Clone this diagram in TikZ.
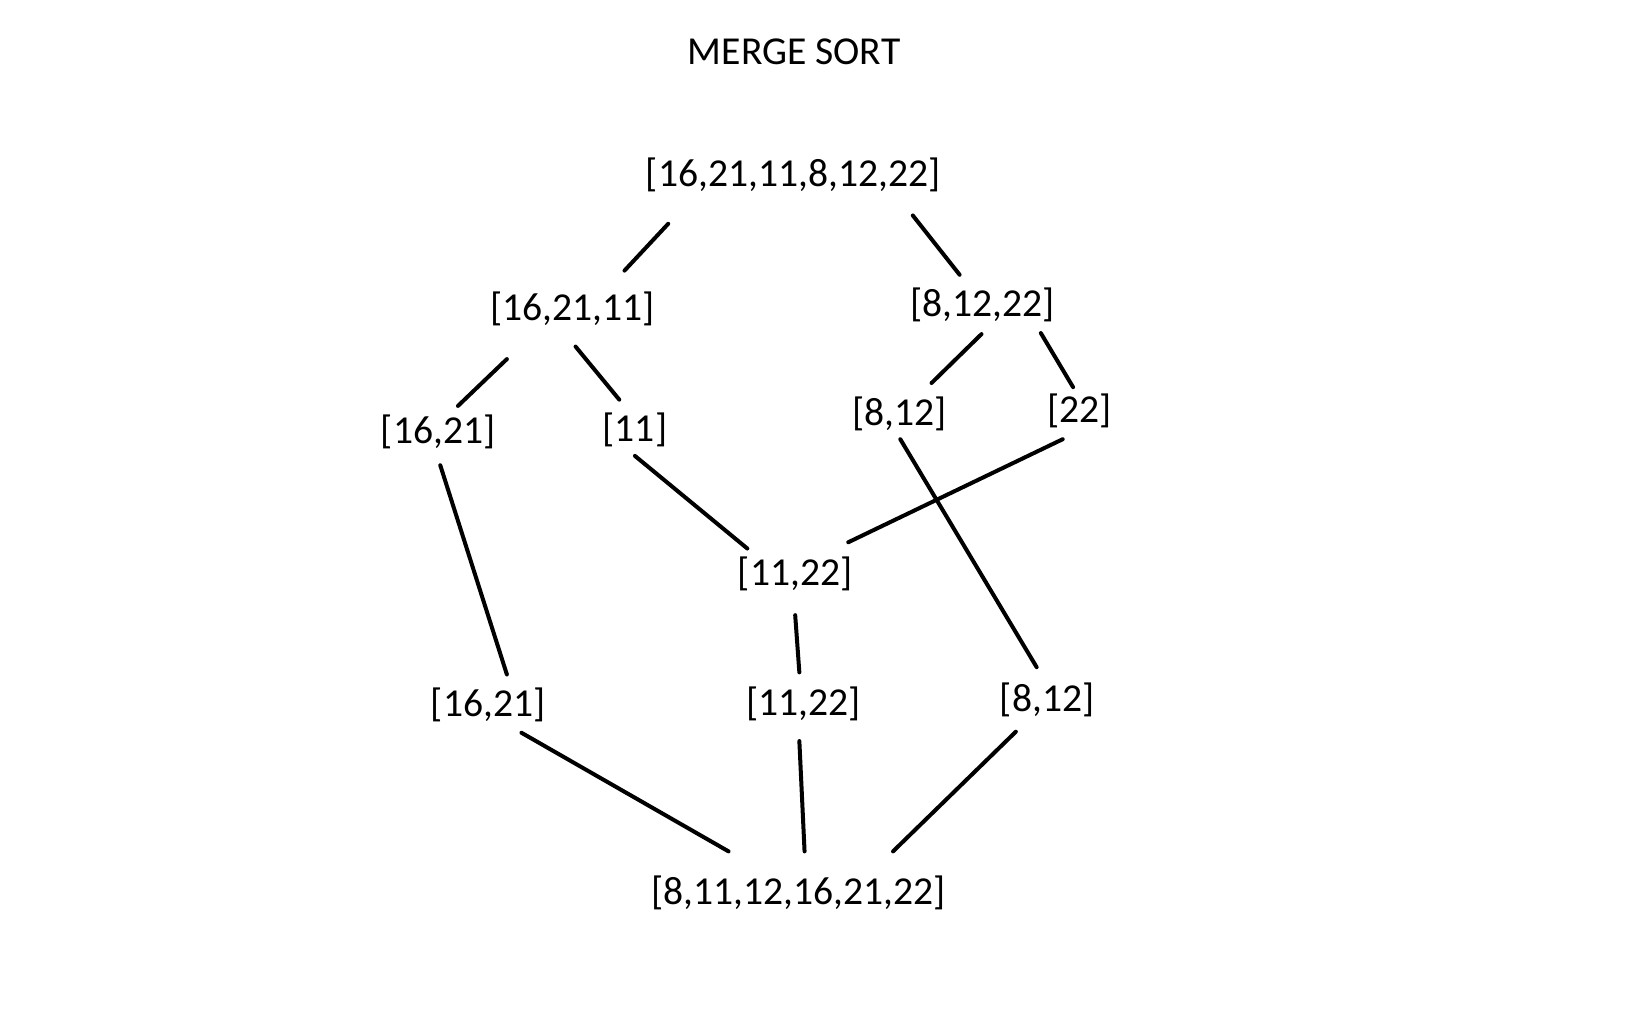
\documentclass[tikz,border=0pt]{standalone}
\usepackage{fontspec}
\setmainfont{Carlito}
\begin{document}
\begin{tikzpicture}[x=0.5204pt,y=-0.5204pt,
  lbl/.style={font=\fontsize{19.8}{24}\selectfont, inner sep=0pt},
  edge/.style={line width=2pt, line cap=round}]
\useasboundingbox[fill=white] (0,0) rectangle (1568,970.4);
\node[lbl] (title) at (763,50) {MERGE SORT};
\node[lbl] (root) at (762,168) {[16,21,11,8,12,22]};
\node[lbl] (l) at (550,297) {[16,21,11]};
\node[lbl] (r) at (944,293) {[8,12,22]};
\node[lbl] (ll) at (421,415) {[16,21]};
\node[lbl] (lr) at (610,413) {[11]};
\node[lbl] (rl) at (864,398) {[8,12]};
\node[lbl] (rr) at (1037,395) {[22]};
\node[lbl] (m) at (764,551) {[11,22]};
\node[lbl] (bl) at (469,677) {[16,21]};
\node[lbl] (bm) at (772,676) {[11,22]};
\node[lbl] (br) at (1006,672) {[8,12]};
\node[lbl] (fin) at (767,858) {[8,11,12,16,21,22]};
\draw[edge] ([shift={(-120,47)}]root.center) -- ([shift={(50,-37)}]l.center);
\draw[edge] ([shift={(115,39)}]root.center) -- ([shift={(-22,-29)}]r.center);
\draw[edge] ([shift={(-63,48)}]l.center) -- ([shift={(19,-25)}]ll.center);
\draw[edge] ([shift={(3,36)}]l.center) -- ([shift={(-15,-29)}]lr.center);
\draw[edge] ([shift={(-1,28)}]r.center) -- ([shift={(31,-30)}]rl.center);
\draw[edge] ([shift={(56,27)}]r.center) -- ([shift={(-6,-23)}]rr.center);
\draw[edge] ([shift={(2,32)}]ll.center) -- ([shift={(18,-29)}]bl.center);
\draw[edge] ([shift={(0,25)}]lr.center) -- ([shift={(-46,-24)}]m.center);
\draw[edge] ([shift={(-16,27)}]rr.center) -- ([shift={(51,-30)}]m.center);
\draw[edge] ([shift={(1,24)}]rl.center) -- ([shift={(-10,-31)}]br.center);
\draw[edge] ([shift={(0,40)}]m.center) -- ([shift={(-4,-30)}]bm.center);
\draw[edge] ([shift={(32,27)}]bl.center) -- ([shift={(-67,-40)}]fin.center);
\draw[edge] ([shift={(-4,36)}]bm.center) -- ([shift={(6,-40)}]fin.center);
\draw[edge] ([shift={(-30,31)}]br.center) -- ([shift={(91,-40)}]fin.center);
\end{tikzpicture}
\end{document}
